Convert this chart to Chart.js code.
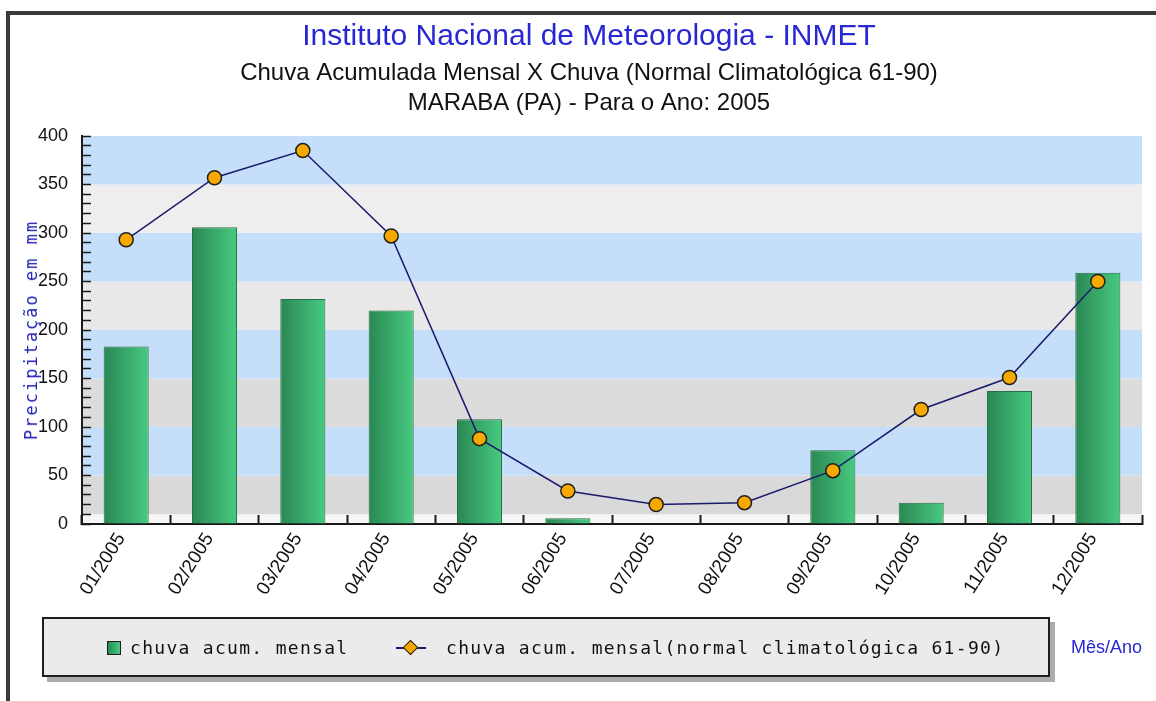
<!DOCTYPE html>
<html>
<head>
<meta charset="utf-8">
<script src="https://cdn.jsdelivr.net/npm/chart.js@4.4.1/dist/chart.umd.min.js"></script>
<style>
    html, body { margin: 0; padding: 0; background: #fff; }
    body { width: 1156px; height: 701px; position: relative; overflow: hidden; font-family: "Liberation Sans", Arial, sans-serif; }
    #frame { position: absolute; left: 6px; top: 11px; width: 1170px; height: 720px; border-left: 4px solid #3a3a3a; border-top: 4px solid #3a3a3a; }
    #chart { position: absolute; left: 0; top: 0; }
    #yTitle { position: absolute; left: 31px; top: 330px; transform: translate(-50%, -50%) rotate(-90deg); white-space: nowrap;
              font: 17px "DejaVu Sans Mono", monospace; letter-spacing: 2px; color: #2323b8; }
    #legend { position: absolute; left: 42px; top: 617px; width: 1004px; height: 56px; background: #ebebeb;
              border: 2px solid #1e1e1e; box-shadow: 5px 5px 0 #ababab; }
    .lg-item { position: absolute; top: 1px; height: 56px; white-space: nowrap;
               font: 18px "DejaVu Sans Mono", monospace; line-height: 56px; letter-spacing: 1.3px; color: #111; }
    .lg-box { position: absolute; width: 12px; height: 12px; top: 22px; background: linear-gradient(90deg, #2b8b55, #47c97f); border: 1px solid #1e1e1e; }
    .lg-line { position: absolute; width: 30px; height: 2px; top: 28px; background: #1b1b6e; }
    .lg-dot { position: absolute; width: 9px; height: 9px; top: 23px; background: #f8a900; border: 1.5px solid #202020; transform: rotate(45deg); }
</style>
</head>
<body>
<div id="frame"></div>
<canvas id="chart" width="1156" height="701"></canvas>
<div id="yTitle"></div>
<div id="legend"></div>

<script>
// Dados - INMET, Marabá (PA), 2005
const months = ['01/2005', '02/2005', '03/2005', '04/2005', '05/2005', '06/2005',
                '07/2005', '08/2005', '09/2005', '10/2005', '11/2005', '12/2005'];
const chuvaMensal = [183, 306, 232, 220, 108, 6, 0, 0, 76, 22, 137, 259];
const chuvaNormal = [293, 357, 385, 297, 88, 34, 20, 22, 55, 118, 151, 250];
const seriesNames = ['chuva acum. mensal', 'chuva acum. mensal(normal climatológica 61-90)'];
const yMax = 400;
const yMajorStep = 50;
const yMinorStep = 10;

const titleText = 'Instituto Nacional de Meteorologia - INMET';
const subtitleText = ['Chuva Acumulada Mensal X Chuva (Normal Climatológica 61-90)', 'MARABA (PA) - Para o Ano: 2005'];
const yAxisTitle = 'Precipitação em mm';
const xAxisTitle = 'Mês/Ano';

const FONT = '"Liberation Sans", Arial, sans-serif';
const BAR_PCT = 0.51;

/**
 * Background stripes behind the plot
 */
const bandsPlugin = {
    id: 'bands',
    beforeDraw(chart) {
        const {ctx, chartArea: a, scales: {y}} = chart;
        const edges = [0, 10, 50, 100, 150, 200, 250, 300, 350, 400];
        const colors = ['#f6f6f6', '#d9d9d9', '#c5dffa', '#dcdcdc', '#c5dffa', '#e8e8e8', '#c5dffa', '#eeeeee', '#c5dffa'];
        ctx.save();
        for (let i = 0; i < colors.length; i++) {
            const top = y.getPixelForValue(edges[i + 1]);
            const bottom = y.getPixelForValue(edges[i]);
            ctx.fillStyle = colors[i];
            ctx.fillRect(a.left, top, a.right - a.left, bottom - top);
        }
        ctx.restore();
    }
};

function barGradient(context) {
    const chart = context.chart;
    if (!chart.chartArea) return '#3aa86a';
    const x = chart.scales.x.getPixelForValue(context.dataIndex);
    const half = chart.scales.x.width / months.length * BAR_PCT / 2;
    const g = chart.ctx.createLinearGradient(x - half, 0, x + half, 0);
    g.addColorStop(0, '#2a8753');
    g.addColorStop(1, '#48ca80');
    return g;
}

const chart = new Chart(document.getElementById('chart'), {
    type: 'bar',
    data: {
        labels: months,
        datasets: [{
            type: 'line',
            label: seriesNames[1],
            data: chuvaNormal,
            order: 0,
            borderColor: '#1b1b6e',
            borderWidth: 1.5,
            tension: 0,
            pointRadius: 7,
            pointHoverRadius: 7,
            pointBackgroundColor: '#f8a900',
            pointBorderColor: '#202020',
            pointBorderWidth: 1.5
        }, {
            type: 'bar',
            label: seriesNames[0],
            data: chuvaMensal,
            order: 1,
            backgroundColor: barGradient,
            borderColor: '#2a6e47',
            borderWidth: (c) => c.raw ? 1 : 0,
            barPercentage: BAR_PCT,
            categoryPercentage: 1
        }]
    },
    options: {
        responsive: false,
        animation: false,
        layout: {padding: {left: 36, right: 14, top: 0, bottom: 0}},
        plugins: {
            legend: {display: false},
            tooltip: {enabled: false},
            title: {
                display: true,
                text: titleText,
                color: '#2727d4',
                font: {family: FONT, size: 30, weight: 'normal', lineHeight: 1.2},
                padding: {top: 19, bottom: 0}
            },
            subtitle: {
                display: true,
                text: subtitleText,
                color: '#111',
                font: {family: FONT, size: 24, weight: 'normal', lineHeight: 1.25},
                padding: {top: 3, bottom: 18}
            }
        },
        scales: {
            x: {
                offset: true,
                afterFit: (s) => { s.height = 177; },
                grid: {display: true, offset: true, drawOnChartArea: false, tickLength: -9, tickColor: '#1a1a1a', tickWidth: 2},
                border: {color: '#1a1a1a', width: 2},
                ticks: {minRotation: 58, maxRotation: 58, padding: 14, labelOffset: -5, color: '#111', font: {family: FONT, size: 19}},
                title: {
                    display: true, text: xAxisTitle, align: 'end', color: '#2727d4',
                    font: {family: FONT, size: 18}, padding: {top: 0, bottom: 42}
                }
            },
            y: {
                min: 0,
                max: yMax,
                afterFit: (s) => { s.width = 46; },
                grid: {drawOnChartArea: false, tickLength: -9, tickColor: '#1a1a1a', tickWidth: 1.5},
                border: {color: '#1a1a1a', width: 2},
                ticks: {
                    stepSize: yMinorStep,
                    autoSkip: false,
                    padding: 23,
                    color: '#111',
                    font: {family: FONT, size: 18},
                    callback: (v) => v % yMajorStep === 0 ? v : ''
                }
            }
        }
    },
    plugins: [bandsPlugin]
});

// Y title and legend (monospace, spaced like the original)
document.getElementById('yTitle').textContent = yAxisTitle;

const legend = document.getElementById('legend');
legend.innerHTML = `
    <span class="lg-box" style="left:63px"></span>
    <span class="lg-item" style="left:86px">${seriesNames[0]}</span>
    <span class="lg-line" style="left:352px"></span>
    <span class="lg-dot" style="left:361px"></span>
    <span class="lg-item" style="left:402px">${seriesNames[1]}</span>
`;
</script>
</body>
</html>
